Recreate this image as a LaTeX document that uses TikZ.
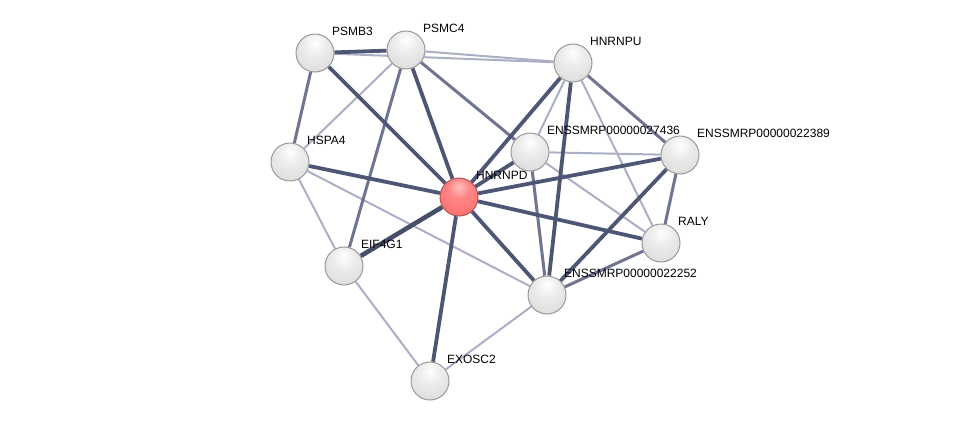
\documentclass[tikz,border=0pt]{standalone}
\usepackage{fontspec}
\setmainfont{Liberation Sans}
\usetikzlibrary{backgrounds}

\definecolor{edgedark}{RGB}{78,86,118}
\definecolor{edgemid}{RGB}{110,116,146}
\definecolor{edgelight}{RGB}{170,175,198}

\pgfdeclareradialshading{greyball}{\pgfpoint{0bp}{14bp}}{color(0bp)=(white);
    color(14bp)=(gray!14); color(38bp)=(gray!30); color(56bp)=(gray!45); color(72bp)=(gray!45)}
\pgfdeclareradialshading{redball}{\pgfpoint{0bp}{14bp}}{color(0bp)=(red!25);
    color(14bp)=(red!48); color(38bp)=(red!58); color(56bp)=(red!60!gray); color(72bp)=(red!60!gray)}

\begin{document}
\begin{tikzpicture}[x=1pt,y=-1pt,
    prot/.style={circle,minimum size=38pt,inner sep=0pt,draw=gray!80,line width=1pt,
        shading=greyball},
    query/.style={prot,shading=redball,draw=red!35!gray},
    lbl/.style={font=\fontsize{12}{12}\selectfont,inner sep=1pt,label distance=3pt},
    strong/.style={edgedark,line width=3.8pt},
    mid/.style={edgemid,line width=3pt},
    weak/.style={edgelight,line width=2pt}]
    \useasboundingbox (0,0) rectangle (975,426);

    % proteins
    \node[prot,label={[lbl]45:PSMB3}] (psmb3) at (315,53) {};
    \node[prot,label={[lbl]45:PSMC4}] (psmc4) at (406,50) {};
    \node[prot,label={[lbl]45:HNRNPU}] (hnrnpu) at (573,63) {};
    \node[prot,label={[lbl]45:HSPA4}] (hspa4) at (290,162) {};
    \node[prot,label={[lbl]45:ENSSMRP00000027436}] (e27436) at (530,152) {};
    \node[prot,label={[lbl]45:ENSSMRP00000022389}] (e22389) at (680,155) {};
    \node[query,label={[lbl]45:HNRNPD}] (hnrnpd) at (459,197) {};
    \node[prot,label={[lbl]45:RALY}] (raly) at (661,243) {};
    \node[prot,label={[lbl]45:EIF4G1}] (eif4g1) at (344,266) {};
    \node[prot,label={[lbl]45:ENSSMRP00000022252}] (e22252) at (547,295) {};
    \node[prot,label={[lbl]45:EXOSC2}] (exosc2) at (430,381) {};

    \begin{scope}[on background layer]
        % weak links
        \foreach \a/\b in {psmb3/hnrnpu,psmc4/hnrnpu,psmc4/hspa4,hspa4/eif4g1,hspa4/e22252,
            eif4g1/exosc2,exosc2/e22252,hnrnpu/e27436,hnrnpu/raly,e27436/e22389,e27436/raly}
            \draw[weak] (\a) -- (\b);
        % medium links
        \foreach \a/\b in {psmb3/hspa4,psmc4/eif4g1,psmc4/e27436,e22389/raly,raly/e22252,
            e27436/e22252,hnrnpu/e22389}
            \draw[mid] (\a) -- (\b);
        % strong links
        \foreach \a/\b in {psmb3/psmc4,psmb3/hnrnpd,psmc4/hnrnpd,hspa4/hnrnpd,hnrnpd/exosc2,
            hnrnpd/e22252,hnrnpd/raly,hnrnpd/e22389,hnrnpd/hnrnpu,hnrnpd/e27436,
            hnrnpu/e22252,e22389/e22252}
            \draw[strong] (\a) -- (\b);
        \draw[strong,line width=4.6pt,edgedark!90!black] (hnrnpd) -- (eif4g1);
    \end{scope}
\end{tikzpicture}
\end{document}
